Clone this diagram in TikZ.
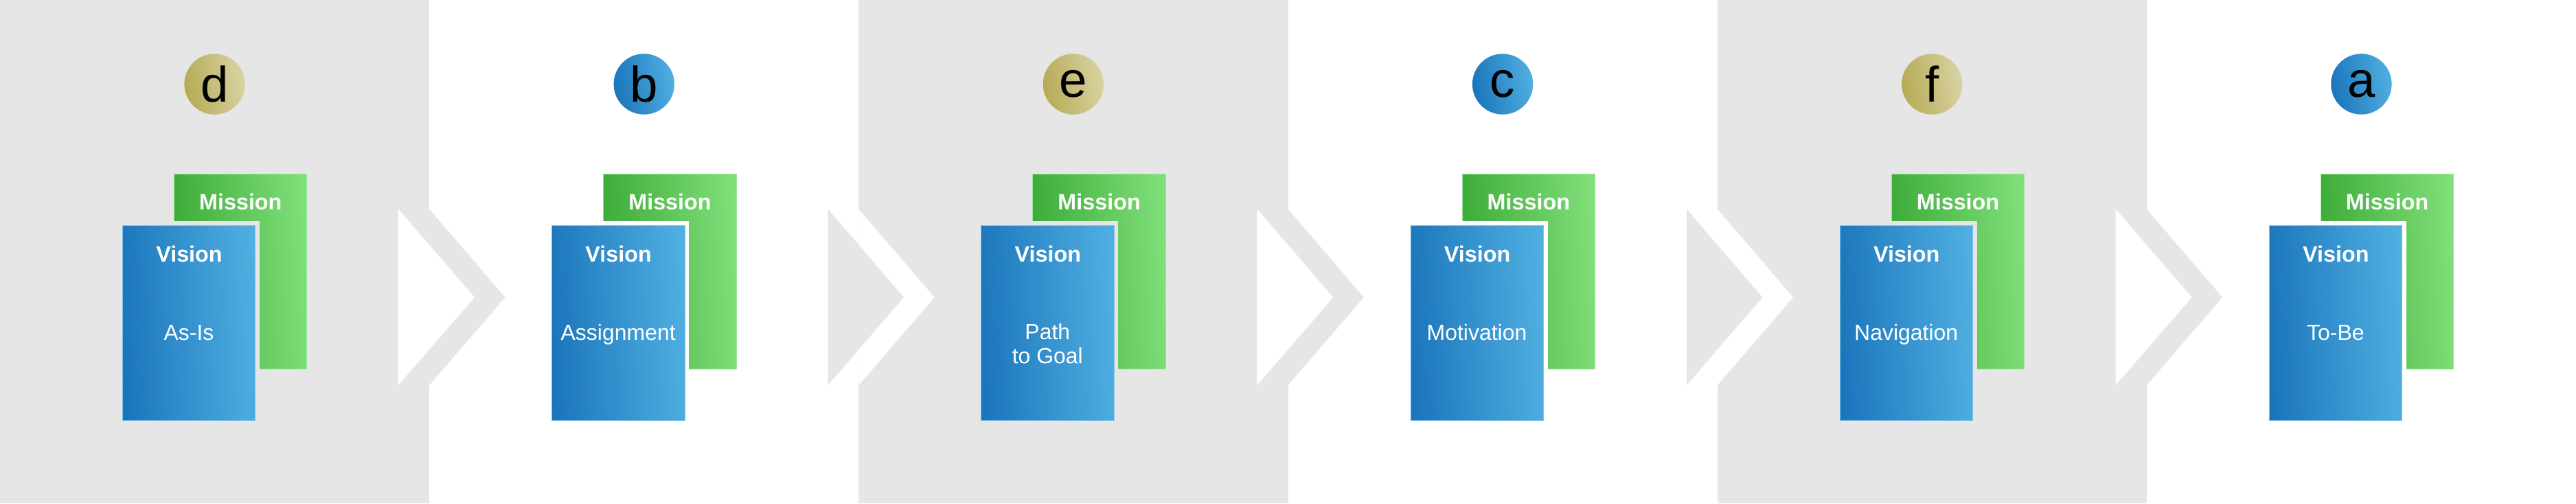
\documentclass[tikz,border=0pt]{standalone}
\usepackage{fontspec}
\setmainfont{Liberation Sans}
\definecolor{panelgray}{HTML}{E6E6E6}
\definecolor{blueL}{HTML}{1B75BB}
\definecolor{blueR}{HTML}{50AFE1}
\definecolor{greenL}{HTML}{3BAA37}
\definecolor{greenR}{HTML}{80DF7A}
\definecolor{goldL}{HTML}{B5AB55}
\definecolor{goldR}{HTML}{D9D3A3}
\begin{document}
\begin{tikzpicture}[
    panel/.style = {fill=panelgray, inner sep=0, outer sep=0, minimum width=6.2517cm, minimum height=7.33cm},
    mission/.style = {left color=greenL, right color=greenR, shading angle=93, draw=greenR!75!white, line width=0.006cm, inner sep=0, outer sep=0, minimum width=1.934cm, minimum height=2.84cm},
    gap/.style = {fill=#1, inner sep=0, outer sep=0, minimum width=2.06cm, minimum height=2.966cm},
    vision/.style = {left color=blueL, right color=blueR, shading angle=93, draw=blueR!75!white, line width=0.006cm, inner sep=0, outer sep=0, minimum width=1.934cm, minimum height=2.84cm},
    head/.style = {text=white, anchor=base, font=\fontsize{9.2}{9.7}\selectfont\bfseries},
    body/.style = {text=white, anchor=base, align=center, font=\fontsize{9.1}{9.7}\selectfont},
    badge/.style = {circle, inner sep=0, outer sep=0, minimum size=0.884cm, font=\fontsize{20.7}{24}\selectfont},
    gold/.style = {badge, left color=goldL, right color=goldR, shading angle=100},
    blue/.style = {badge, left color=blueL, right color=blueR, shading angle=100}]
    \useasboundingbox (0, 0) rectangle (37.51, -7.33);

    \node[panel] (p0) at (3.126, -3.665) {};
    \node[panel] (p2) at (15.629, -3.665) {};
    \node[panel] (p4) at (28.133, -3.665) {};

    \fill [panelgray] (6.252, -3.045) -- (7.355, -4.33) -- (6.252, -5.61) -- cycle;
    \fill [white] (5.80, -3.045) -- (6.91, -4.33) -- (5.80, -5.61) -- cycle;

    \fill [white] (12.503, -3.045) -- (13.607, -4.33) -- (12.503, -5.61) -- cycle;
    \fill [panelgray] (12.057, -3.045) -- (13.16, -4.33) -- (12.057, -5.61) -- cycle;

    \fill [panelgray] (18.755, -3.045) -- (19.858, -4.33) -- (18.755, -5.61) -- cycle;
    \fill [white] (18.303, -3.045) -- (19.413, -4.33) -- (18.303, -5.61) -- cycle;

    \fill [white] (25.007, -3.045) -- (26.11, -4.33) -- (25.007, -5.61) -- cycle;
    \fill [panelgray] (24.56, -3.045) -- (25.663, -4.33) -- (24.56, -5.61) -- cycle;

    \fill [panelgray] (31.258, -3.045) -- (32.362, -4.33) -- (31.258, -5.61) -- cycle;
    \fill [white] (30.806, -3.045) -- (31.916, -4.33) -- (30.806, -5.61) -- cycle;

    \node[gold] (c0) at (3.126, -1.225) {d};
    \node[blue] (c1) at (9.378, -1.225) {b};
    \node[gold] (c2) at (15.629, -1.225) {e};
    \node[blue] (c3) at (21.881, -1.225) {c};
    \node[gold] (c4) at (28.133, -1.225) {f};
    \node[blue] (c5) at (34.384, -1.225) {a};

    \node[mission] (m0) at (3.5, -3.953) {};
    \node[gap=panelgray] (g0) at (2.75, -4.703) {};
    \node[vision] (v0) at (2.75, -4.703) {};
    \node[head] (hm0) at (3.503, -3.057) {Mission};
    \node[head] (hv0) at (2.755, -3.812) {Vision};
    \node[body] (t0) at (2.75, -4.95) {As-Is};

    \node[mission] (m1) at (9.752, -3.953) {};
    \node[gap=white] (g1) at (9.002, -4.703) {};
    \node[vision] (v1) at (9.002, -4.703) {};
    \node[head] (hm1) at (9.755, -3.057) {Mission};
    \node[head] (hv1) at (9.007, -3.812) {Vision};
    \node[body] (t1) at (9.002, -4.95) {Assignment};

    \node[mission] (m2) at (16.003, -3.953) {};
    \node[gap=panelgray] (g2) at (15.253, -4.703) {};
    \node[vision] (v2) at (15.253, -4.703) {};
    \node[head] (hm2) at (16.006, -3.057) {Mission};
    \node[head] (hv2) at (15.258, -3.812) {Vision};
    \node[body] (t2) at (15.253, -5.29) {Path\\to Goal};

    \node[mission] (m3) at (22.255, -3.953) {};
    \node[gap=white] (g3) at (21.505, -4.703) {};
    \node[vision] (v3) at (21.505, -4.703) {};
    \node[head] (hm3) at (22.258, -3.057) {Mission};
    \node[head] (hv3) at (21.51, -3.812) {Vision};
    \node[body] (t3) at (21.505, -4.95) {Motivation};

    \node[mission] (m4) at (28.507, -3.953) {};
    \node[gap=panelgray] (g4) at (27.757, -4.703) {};
    \node[vision] (v4) at (27.757, -4.703) {};
    \node[head] (hm4) at (28.51, -3.057) {Mission};
    \node[head] (hv4) at (27.762, -3.812) {Vision};
    \node[body] (t4) at (27.757, -4.95) {Navigation};

    \node[mission] (m5) at (34.758, -3.953) {};
    \node[gap=white] (g5) at (34.008, -4.703) {};
    \node[vision] (v5) at (34.008, -4.703) {};
    \node[head] (hm5) at (34.761, -3.057) {Mission};
    \node[head] (hv5) at (34.013, -3.812) {Vision};
    \node[body] (t5) at (34.008, -4.95) {To-Be};

\end{tikzpicture}
\end{document}
